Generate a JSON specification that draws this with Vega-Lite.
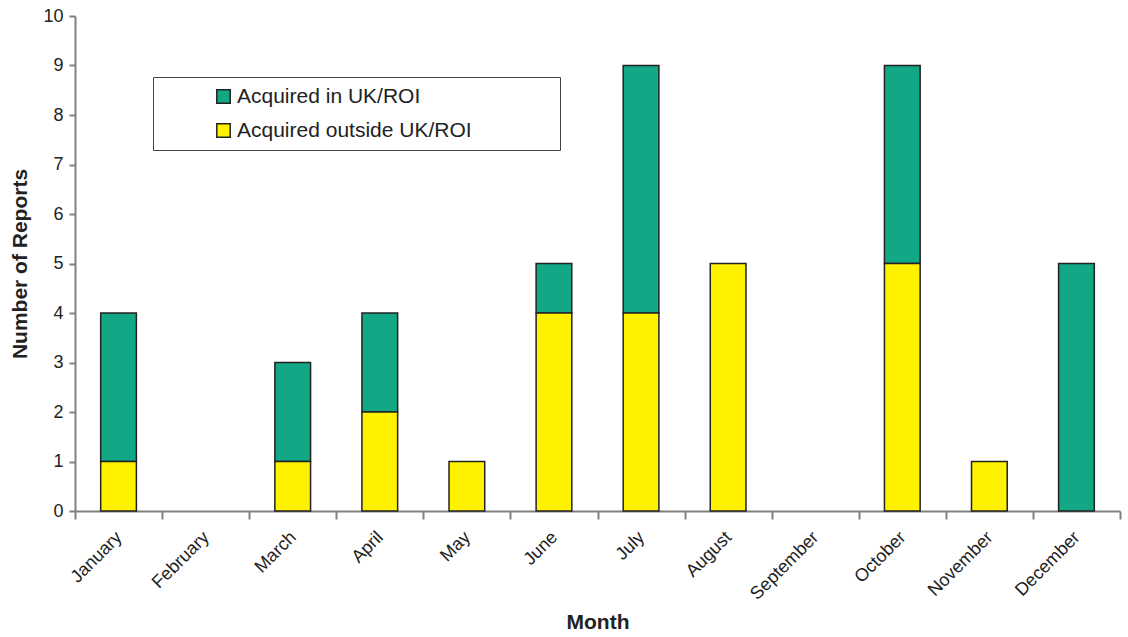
{
  "$schema": "https://vega.github.io/schema/vega-lite/v6.json",
  "autosize": {"type": "none"},
  "padding": {"left": 75, "top": 16, "right": 8, "bottom": 126},
  "width": 1045,
  "height": 495,
  "background": "white",
  "config": {
    "font": "Liberation Sans",
    "view": {"stroke": null}
  },
  "data": {
    "values": [
      {"month": "January", "source": "Acquired in UK/ROI", "reports": 3},
      {"month": "January", "source": "Acquired outside UK/ROI", "reports": 1},
      {"month": "March", "source": "Acquired in UK/ROI", "reports": 2},
      {"month": "March", "source": "Acquired outside UK/ROI", "reports": 1},
      {"month": "April", "source": "Acquired in UK/ROI", "reports": 2},
      {"month": "April", "source": "Acquired outside UK/ROI", "reports": 2},
      {"month": "May", "source": "Acquired outside UK/ROI", "reports": 1},
      {"month": "June", "source": "Acquired in UK/ROI", "reports": 1},
      {"month": "June", "source": "Acquired outside UK/ROI", "reports": 4},
      {"month": "July", "source": "Acquired in UK/ROI", "reports": 5},
      {"month": "July", "source": "Acquired outside UK/ROI", "reports": 4},
      {"month": "August", "source": "Acquired outside UK/ROI", "reports": 5},
      {"month": "October", "source": "Acquired in UK/ROI", "reports": 4},
      {"month": "October", "source": "Acquired outside UK/ROI", "reports": 5},
      {"month": "November", "source": "Acquired outside UK/ROI", "reports": 1},
      {"month": "December", "source": "Acquired in UK/ROI", "reports": 5}
    ]
  },
  "mark": {"type": "bar", "stroke": "#222222", "strokeWidth": 1.5, "width": {"band": 0.41}},
  "encoding": {
    "x": {
      "field": "month",
      "type": "nominal",
      "scale": {
        "domain": ["January", "February", "March", "April", "May", "June", "July", "August", "September", "October", "November", "December"],
        "paddingInner": 0,
        "paddingOuter": 0
      },
      "axis": {
        "title": "Month",
        "titleFontSize": 21,
        "titleFontWeight": "bold",
        "titleColor": "#222222",
        "titlePadding": 9,
        "labelAngle": -45,
        "labelFontSize": 18,
        "labelColor": "#222222",
        "labelPadding": 9,
        "labelOffset": -6,
        "tickBand": "extent",
        "tickSize": 8,
        "tickColor": "#808080",
        "tickWidth": 2,
        "domainColor": "#808080",
        "domainWidth": 2
      }
    },
    "y": {
      "field": "reports",
      "type": "quantitative",
      "aggregate": "sum",
      "stack": "zero",
      "scale": {"domain": [0, 10]},
      "axis": {
        "title": "Number of Reports",
        "titleFontSize": 21,
        "titleFontWeight": "bold",
        "titleColor": "#222222",
        "titlePadding": 12,
        "values": [0, 1, 2, 3, 4, 5, 6, 7, 8, 9, 10],
        "labelFontSize": 18,
        "labelColor": "#222222",
        "labelPadding": 6,
        "tickSize": 6,
        "tickColor": "#808080",
        "tickWidth": 2,
        "domainColor": "#808080",
        "domainWidth": 2,
        "grid": false
      }
    },
    "color": {
      "field": "source",
      "type": "nominal",
      "scale": {
        "domain": ["Acquired in UK/ROI", "Acquired outside UK/ROI"],
        "range": ["#12A785", "#FFF200"]
      },
      "legend": {
        "title": " ",
        "titleOrient": "right",
        "titlePadding": 79,
        "titleFontSize": 10,
        "orient": "none",
        "legendX": 78,
        "legendY": 61,
        "direction": "vertical",
        "symbolType": "square",
        "symbolSize": 180,
        "symbolStrokeColor": "#222222",
        "symbolStrokeWidth": 1.5,
        "labelFontSize": 21,
        "labelColor": "#222222",
        "labelOffset": 3,
        "labelLimit": 400,
        "rowPadding": 12,
        "padding": 9,
        "symbolOffset": 51,
        "strokeColor": "#444444",
        "fillColor": "white"
      }
    },
    "order": {"field": "source", "sort": "descending"}
  }
}
